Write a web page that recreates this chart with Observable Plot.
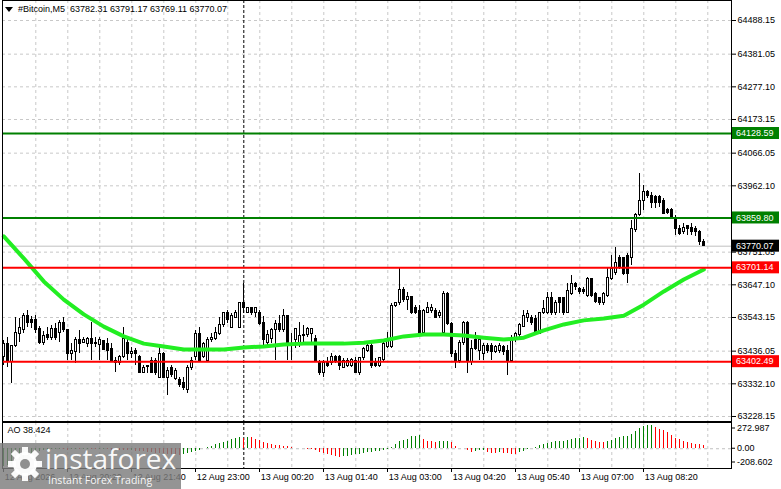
<!DOCTYPE html>
<html><head><meta charset="utf-8">
<script src="https://cdn.jsdelivr.net/npm/d3@7"></script>
<script src="https://cdn.jsdelivr.net/npm/@observablehq/plot@0.6"></script>
<style>
html,body{margin:0;padding:0;background:#fff;}
#wrap{position:relative;width:781px;height:489px;overflow:hidden;font-family:"Liberation Sans",Arial,sans-serif;}
#main,#ao{position:absolute;left:0;}
#main{top:0;} #ao{top:421px;}
#hdr{position:absolute;left:5px;top:3px;font-size:9px;line-height:12px;white-space:pre;color:#000;}
#hdr svg{vertical-align:middle;margin-right:5px;}
#wm{position:absolute;left:0;top:443px;width:181px;height:46px;background:rgba(125,125,125,0.82);}
#wm .big{position:absolute;left:45px;top:0px;font-family:"Open Sans",sans-serif;font-size:28px;line-height:30px;color:rgba(255,255,255,0.95);white-space:nowrap;}
#wm .small{position:absolute;left:48px;top:31px;font-family:"Open Sans",sans-serif;font-size:10.5px;line-height:12px;color:rgba(255,255,255,0.95);white-space:nowrap;}
</style></head><body>
<div id="wrap">
  <div id="main"></div>
  <div id="ao"></div>
  <div id="hdr"></div>
  <div id="wm">
    <svg width="46" height="46" viewBox="0 0 46 46" style="position:absolute;left:2px;top:0">
      <g transform="translate(23,21)" fill="rgba(255,255,255,0.95)">
        <circle r="12"/>
        <rect x="-3" y="-17" width="6" height="8"/>
        <rect x="-3" y="-17" width="6" height="8" transform="rotate(45)"/>
        <rect x="-3" y="-17" width="6" height="8" transform="rotate(90)"/>
        <rect x="-3" y="-17" width="6" height="8" transform="rotate(135)"/>
        <rect x="-3" y="-17" width="6" height="8" transform="rotate(180)"/>
        <rect x="-3" y="-17" width="6" height="8" transform="rotate(225)"/>
        <rect x="-3" y="-17" width="6" height="8" transform="rotate(270)"/>
        <rect x="-3" y="-17" width="6" height="8" transform="rotate(315)"/>
        <circle r="5" fill="#8f8f8f"/>
      </g>
    </svg>
    <div class="big">instaforex</div>
    <div class="small">Instant Forex Trading</div>
  </div>
</div>
<script>
// ---------- data ----------
const symbol = "#Bitcoin,M5";
const open = [
63416,63460,63403,63454,63492,63502,63549,63534,63534,63508,
63463,63486,63479,63505,63495,63527,63502,63428,63432,63470,
63463,63460,63476,63463,63457,63467,63460,63444,63406,63397,
63416,63463,63428,63435,63416,63368,63390,63406,63406,63352,
63428,63352,63381,63349,63343,63336,63311,63381,63416,63492,
63416,63406,63473,63476,63492,63518,63556,63511,63543,63511,
63588,63559,63572,63556,63559,63527,63463,63476,63502,63524,
63502,63549,63454,63470,63463,63483,63486,63492,63476,63400,
63365,63397,63397,63419,63419,63384,63390,63390,63406,63368,
63413,63438,63454,63400,63390,63409,63448,63448,63581,63588,
63632,63600,63607,63572,63565,63495,63559,63565,63565,63549,
63495,63619,63524,63428,63406,63463,63527,63400,63470,63438,
63428,63454,63454,63432,63438,63448,63438,63406,63479,63486,
63514,63543,63540,63537,63492,63556,63556,63604,63556,63604,
63604,63559,63619,63651,63635,63632,63613,63667,63619,63604,
63588,63613,63667,63686,63731,63731,63740,63734,63820,63868,
63915,63941,63931,63925,63925,63915,63884,63884,63861,63826,
63814,63833,63829,63826,63814,63782.31];
const high = [
63470,63479,63454,63543,63540,63556,63565,63546,63549,63514,
63498,63511,63518,63524,63534,63543,63502,63460,63479,63502,
63479,63479,63527,63479,63479,63470,63476,63460,63416,63422,
63511,63479,63448,63444,63422,63390,63390,63416,63413,63448,
63432,63384,63390,63381,63352,63352,63390,63416,63502,63511,
63463,63479,63492,63511,63543,63559,63565,63556,63565,63591,
63651,63575,63575,63575,63565,63546,63502,63508,63534,63549,
63569,63549,63492,63508,63527,63518,63511,63508,63486,63406,
63406,63416,63428,63422,63422,63413,63413,63413,63416,63416,
63448,63460,63460,63413,63416,63470,63495,63588,63591,63702,
63639,63623,63607,63581,63581,63569,63591,63584,63572,63565,
63626,63623,63527,63438,63470,63530,63530,63470,63495,63476,
63460,63460,63460,63454,63460,63454,63454,63486,63495,63524,
63565,63565,63549,63549,63559,63597,63623,63623,63597,63607,
63607,63651,63677,63654,63639,63639,63670,63667,63623,63607,
63623,63699,63740,63766,63740,63734,63747,63852,63874,64001,
63963,63947,63941,63931,63931,63922,63890,63890,63868,63836,
63842,63836,63842,63833,63820,63791.17];
const low = [
63390,63384,63333,63448,63463,63492,63511,63508,63492,63457,
63454,63470,63470,63470,63463,63495,63406,63406,63397,63428,
63460,63448,63406,63448,63406,63438,63406,63400,63368,63390,
63413,63406,63413,63390,63365,63365,63365,63365,63359,63349,
63349,63295,63352,63343,63320,63311,63301,63374,63406,63400,
63413,63400,63463,63470,63486,63511,63524,63508,63540,63508,
63556,63556,63549,63543,63518,63454,63454,63460,63406,63495,
63495,63406,63406,63444,63448,63463,63479,63463,63400,63359,
63352,63384,63390,63397,63374,63381,63384,63384,63365,63359,
63406,63432,63381,63384,63384,63400,63444,63444,63575,63581,
63591,63565,63553,63553,63492,63489,63556,63556,63540,63540,
63489,63518,63416,63381,63397,63454,63365,63390,63438,63406,
63406,63428,63406,63428,63428,63422,63359,63400,63463,63479,
63511,63527,63518,63492,63489,63553,63553,63549,63549,63556,
63549,63556,63613,63629,63616,63616,63607,63607,63588,63581,
63581,63607,63661,63677,63696,63677,63651,63709,63814,63864,
63884,63922,63890,63890,63893,63871,63871,63858,63804,63804,
63807,63804,63804,63801,63772,63769.11];
const close = [
63460,63403,63454,63495,63511,63549,63527,63527,63502,63463,
63483,63479,63505,63479,63527,63502,63428,63438,63470,63460,
63473,63476,63460,63460,63470,63441,63438,63406,63397,63416,
63476,63428,63432,63428,63368,63381,63387,63368,63365,63428,
63352,63374,63359,63374,63327,63320,63384,63406,63492,63406,
63460,63473,63479,63495,63518,63556,63534,63549,63556,63588,
63572,63572,63556,63572,63524,63470,63486,63502,63524,63502,
63549,63454,63460,63508,63483,63489,63505,63508,63406,63365,
63397,63390,63416,63406,63390,63406,63406,63409,63368,63413,
63444,63454,63390,63390,63413,63460,63470,63581,63588,63632,
63600,63607,63559,63559,63495,63565,63572,63572,63543,63559,
63619,63524,63428,63406,63463,63527,63400,63444,63444,63470,
63454,63438,63432,63448,63454,63432,63406,63479,63492,63518,
63549,63553,63527,63495,63556,63569,63604,63556,63588,63588,
63556,63629,63651,63639,63623,63623,63667,63613,63591,63588,
63619,63670,63699,63715,63702,63683,63683,63826,63868,63915,
63944,63931,63909,63909,63906,63874,63877,63861,63826,63810,
63829,63826,63814,63814,63782,63770.07];
// Awesome Oscillator per bar
const ao = [
-208.6,-196,-180,-160,-138,-115,-92,-70,-50,-34,
-24,-18,-14,-11,-9,-12,-16,-14,-11,-13,
-10,-8,-11,-14,-12,-9,-12,-15,-13,-16,
-20,-24,-22,-27,-32,-37,-42,-47,-52,-57,
-61,-65,-69,-72,-74,-64,-52,-40,-28,-16,
-2,14,30,45,60,75,90,104,115,128,
124,136,128,110,94,72,56,44,40,37,
32,22,12,7,4,2,-4,-12,-26,-40,
-55,-70,-84,-94,-100,-94,-86,-78,-70,-63,
-56,-49,-42,-35,-28,-20,-10,12,45,80,
100,108,140,148,160,108,88,80,72,80,
84,86,72,28,8,6,-20,-40,-38,-22,
-20,-48,-52,-53,-48,-52,-60,-62,-72,-48,
-28,-12,-2,20,40,48,60,68,80,88,
89,100,108,120,121,128,120,92,80,72,
70,80,100,120,132,140,148,172,200,240,
260,268,272.987,252,228,220,192,160,120,108,
80,68,60,52,46,38.424];
// moving average, read every 5 bars
const maBars = [0,5,10,15,20,25,30,35,40,45,50,55,60,65,70,75,80,85,90,95,100,105,110,115,120,125,130,135,140,145,150,155,160,165,170,175];
const maValues = [63801,63731,63658,63600,63553,63514,63483,63460,63451,63441,63441,63441,63448,63451,63457,63460,63460,63460,63463,63470,63483,63489,63489,63486,63479,63473,63479,63502,63521,63534,63540,63549,63584,63626,63664,63696];
// horizontal levels
const levelValues = [64128.59, 63859.80, 63701.14, 63402.49];
const levelColors = ["#008000", "#008000", "#ff0000", "#ff0000"];
const currentPrice = 63770.07;
// axis ticks
const yTicks = [64488.15, 64381.05, 64277.10, 64173.15, 64066.05, 63962.10, 63751.05, 63647.10, 63543.15, 63436.05, 63332.10, 63228.15];
const gridBars = [8,16,24,32,40,48,56,64,72,80,88,96,104,112,120,128,136,144,152,160,168,176];
const daySeparatorBar = 60;
const timeBars = [0,16,32,48,64,80,96,112,128,144,160];
const timeLabels = ["12 Aug 2026","12 Aug 20:20","12 Aug 21:40","12 Aug 23:00","13 Aug 00:20","13 Aug 01:40","13 Aug 03:00","13 Aug 04:20","13 Aug 05:40","13 Aug 07:00","13 Aug 08:20"];
const aoTicks = [272.987, 0, -208.602];
const aoName = "AO";

// ---------- build ----------
const n = close.length;
const idx = d3.range(n);
const xDomain = [-0.325, 181.925];
const font = "Liberation Sans, Arial, sans-serif";
const levels = levelValues.map((v, k) => ({v, c: levelColors[k]}));
const ma = maBars.map((b, k) => ({b, v: maValues[k]}));

document.getElementById("hdr").innerHTML =
  '<svg width="8" height="6" viewBox="0 0 8 6"><path d="M0,0H8L4,5Z" fill="#000"/></svg>' +
  symbol + "  " + [open[n-1], high[n-1], low[n-1], close[n-1]].map(d => d.toFixed(2)).join(" ");

const main = Plot.plot({
  width: 781, height: 421,
  marginLeft: 2, marginRight: 50, marginTop: 0, marginBottom: 0,
  x: {domain: xDomain, axis: null},
  y: {domain: [63212.2, 64551.8], axis: null},
  style: {fontFamily: font, fontSize: "9px", background: "#fff", overflow: "visible", color: "#000"},
  marks: [
    Plot.ruleY(yTicks, {stroke: "#c8c8c8", strokeDasharray: "3,3"}),
    Plot.ruleX(gridBars, {stroke: "#c8c8c8", strokeDasharray: "3,3"}),
    Plot.ruleX([daySeparatorBar], {stroke: "#000", strokeDasharray: "3,2"}),
    Plot.ruleY([currentPrice], {stroke: "#c0c0c0"}),
    Plot.ruleX(idx, {x: i => i, y1: i => low[i], y2: i => high[i], stroke: "#000", strokeWidth: 1, shapeRendering: "crispEdges"}),
    Plot.rect(idx, {x1: i => i - 0.27, x2: i => i + 0.27, y1: i => open[i], y2: i => close[i],
      fill: i => close[i] >= open[i] ? "#ffffff" : "#000000", stroke: "#000", strokeWidth: 1, shapeRendering: "crispEdges"}),
    Plot.line(ma, {x: "b", y: "v", stroke: "#22ee22", strokeWidth: 4}),
    Plot.ruleY(levels, {y: "v", stroke: "c", strokeWidth: 2}),
    Plot.axisY(yTicks, {anchor: "right", label: null, tickFormat: d => d.toFixed(2), tickSize: 4, tickPadding: 2}),
    Plot.frame({stroke: "#000"})
  ]
});
document.getElementById("main").appendChild(main);

// price label boxes on the right axis, positioned with the plot's y scale
const ys = main.scale("y");
const msvg = d3.select(main);
const boxes = levels.map(l => ({v: l.v, c: l.c})).concat([{v: currentPrice, c: "#000"}]);
boxes.forEach(b => {
  const y = ys.apply(b.v);
  const g = msvg.append("g");
  g.append("rect").attr("x", 732).attr("y", y - 6).attr("width", 47).attr("height", 12).attr("fill", b.c);
  g.append("text").attr("x", 736).attr("y", y).attr("dy", "0.34em").attr("fill", "#fff")
    .attr("text-anchor", "start").attr("font-family", font).attr("font-size", 9).text(b.v.toFixed(2));
});

const aoPlot = Plot.plot({
  width: 781, height: 68,
  marginLeft: 2, marginRight: 50, marginTop: 1, marginBottom: 21,
  x: {domain: xDomain, axis: null},
  y: {domain: [-208.602, 272.987], axis: null, insetTop: 3, insetBottom: 2},
  style: {fontFamily: font, fontSize: "9px", background: "transparent", overflow: "visible", color: "#000"},
  marks: [
    Plot.ruleX(gridBars, {stroke: "#c8c8c8", strokeDasharray: "3,3"}),
    Plot.ruleY([0], {stroke: "#c0c0c0", strokeDasharray: "3,3"}),
    Plot.ruleX([daySeparatorBar], {stroke: "#000", strokeDasharray: "3,2"}),
    Plot.ruleX(idx, {x: i => i, y1: 0, y2: i => ao[i],
      stroke: i => (i > 0 && ao[i] < ao[i - 1]) ? "#ff0000" : "#008000", strokeWidth: 1, shapeRendering: "crispEdges"}),
    Plot.text([aoName + " " + ao[n-1].toFixed(3)], {text: d => d, frameAnchor: "top-left", dx: 5, dy: 4, textAnchor: "start", fill: "#000"}),
    Plot.text(timeBars, {x: d => d, text: (d, i) => timeLabels[i], frameAnchor: "bottom", textAnchor: "start", lineAnchor: "top", dx: 1, dy: 5, fill: "#000"}),
    Plot.frame({stroke: "#000"})
  ]
});
document.getElementById("ao").appendChild(aoPlot);

// time-axis ticks and AO right-axis labels, placed with the plot's scales
const ax = aoPlot.scale("x");
const ay = aoPlot.scale("y");
const asvg = d3.select(aoPlot);
const frameBottom = 68 - 21;
timeBars.forEach(b => {
  const x = Math.round(ax.apply(b)) + 0.5;
  asvg.append("line").attr("x1", x).attr("x2", x).attr("y1", frameBottom).attr("y2", frameBottom + 4).attr("stroke", "#000");
});
aoTicks.forEach(v => {
  let y = ay.apply(v);
  if (v > 0) y += 3; else if (v < 0) y -= 4;
  asvg.append("line").attr("x1", 731).attr("x2", 735).attr("y1", y).attr("y2", y).attr("stroke", "#000");
  asvg.append("text").attr("x", 737).attr("y", y).attr("dy", "0.34em").attr("fill", "#000")
    .attr("text-anchor", "start").attr("font-family", font).attr("font-size", 9).text(v === 0 ? "0.00" : v.toFixed(3));
});
</script>
</body></html>
